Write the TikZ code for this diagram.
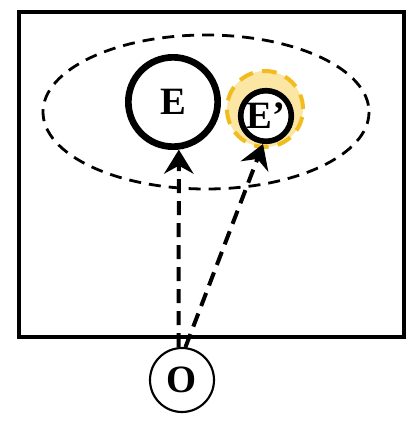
\documentclass[tikz,border=0pt]{standalone}
\usepackage{fontspec}
\setmainfont{Liberation Serif}
\usetikzlibrary{arrows.meta,shapes,calc,positioning}
\definecolor{haloyellow}{HTML}{FCE6A4}
\definecolor{haloedge}{HTML}{F2BC1E}

\begin{document}
\begin{tikzpicture}[x=0.75pt, y=-0.75pt]
	\tikzstyle{every node}=[font=\fontsize{29}{29}\selectfont\bfseries]
	\tikzstyle{ring}=[circle, draw, inner sep=0pt]
	\tikzstyle{probe}=[line width=3pt, dash pattern=on 10.5pt off 6pt,
		-{Stealth[length=18pt, width=22pt, inset=6pt]}]
	\useasboundingbox (0,0) rectangle (420,424);
	\draw [line width=2.6pt] (19,12) rectangle (404,337);
	\draw [line width=2.1pt, dash pattern=on 9pt off 6pt] (206,112) ellipse (163 and 77);
	\node [ring, fill=haloyellow, draw=haloedge, line width=3pt, dash pattern=on 11pt off 7pt,
		minimum size=57pt] (halo) at (265,109) {};
	\node [ring, line width=5pt, minimum size=67pt] (e) at (173,102) {E};
	\node [ring, fill=white, line width=4.2pt, minimum size=38pt] (ep) at (266,116) {E’};
	\node [ring, line width=1.6pt, minimum size=48pt] (o) at (182,380) {O};
	\draw [probe] (o.96) -- (e.-83);
	\draw [probe] (o.84) -- (ep.-96);
\end{tikzpicture}
\end{document}
